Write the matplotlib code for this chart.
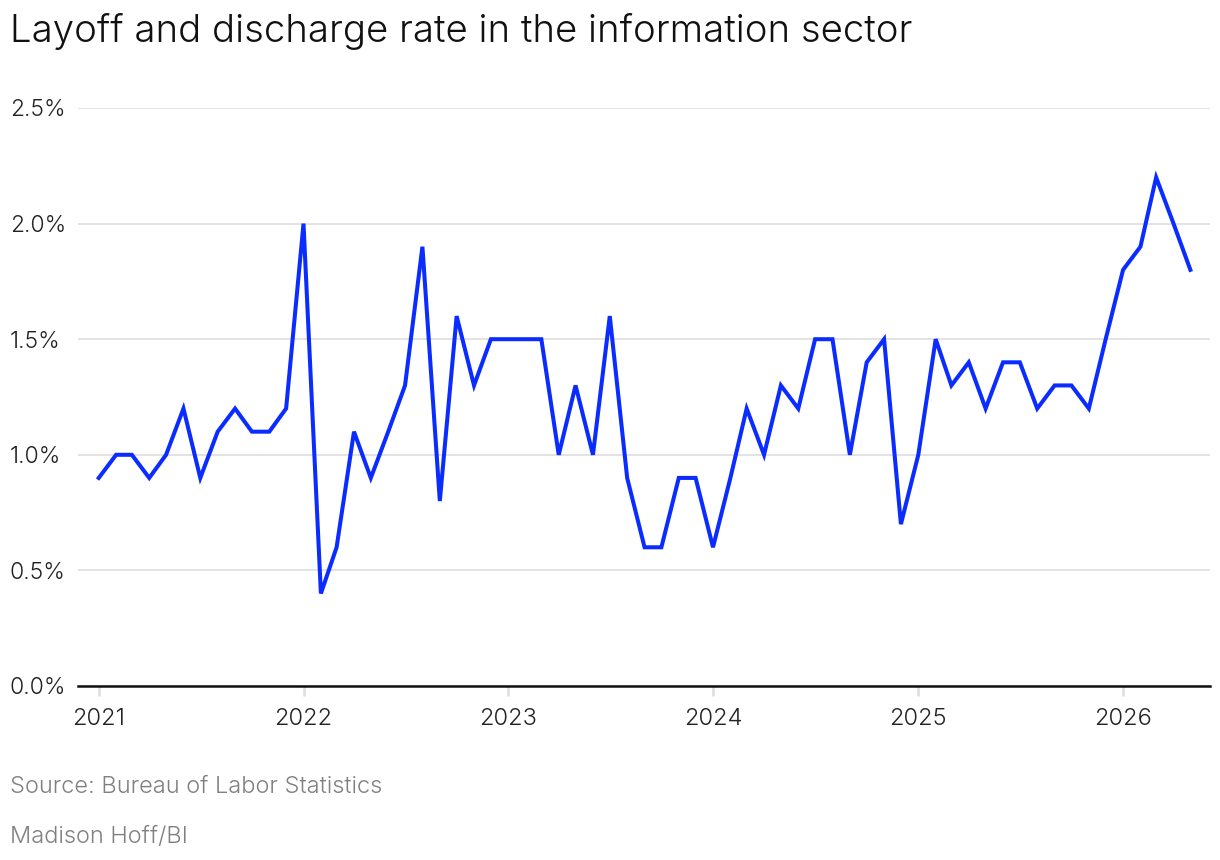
import matplotlib
matplotlib.use("Agg")
import matplotlib.pyplot as plt
import pandas as pd

plt.rcParams['font.family'] = ['Inter', 'DejaVu Sans']
plt.rcParams['font.weight'] = 300

start_month = "2021-01-01"
rate = [0.9, 1.0, 1.0, 0.9, 1.0, 1.2, 0.9, 1.1, 1.2, 1.1, 1.1, 1.2,
        2.0, 0.4, 0.6, 1.1, 0.9, 1.1, 1.3, 1.9, 0.8, 1.6, 1.3, 1.5,
        1.5, 1.5, 1.5, 1.0, 1.3, 1.0, 1.6, 0.9, 0.6, 0.6, 0.9, 0.9,
        0.6, 0.9, 1.2, 1.0, 1.3, 1.2, 1.5, 1.5, 1.0, 1.4, 1.5, 0.7,
        1.0, 1.5, 1.3, 1.4, 1.2, 1.4, 1.4, 1.2, 1.3, 1.3, 1.2, 1.5,
        1.8, 1.9, 2.2, 2.0, 1.8]
y_ticks = [0.0, 0.5, 1.0, 1.5, 2.0, 2.5]
y_tick_labels = ["0.0%", "0.5%", "1.0%", "1.5%", "2.0%", "2.5%"]
x_tick_years = [2021, 2022, 2023, 2024, 2025, 2026]

dates = pd.date_range(start_month, periods=len(rate), freq="MS")

W, H = 1220, 860
fig = plt.figure(figsize=(W / 100, H / 100), dpi=100)
ax_left, ax_right, ax_top, ax_bottom = 78, 1210, 108, 686
ax = fig.add_axes([ax_left / W, 1 - ax_bottom / H, (ax_right - ax_left) / W, (ax_bottom - ax_top) / H])

ax.plot(dates, rate, color="#0a2cff", lw=2.9, solid_joinstyle="miter", clip_on=False, zorder=3)

ax.set_ylim(0, 2.5)
ax.set_xlim(pd.Timestamp("2020-11-25"), pd.Timestamp("2026-06-05"))
ax.set_yticks(y_ticks)
ax.set_yticklabels(y_tick_labels)
ax.set_xticks([pd.Timestamp(f"{y}-01-01") for y in x_tick_years])
ax.set_xticklabels([str(y) for y in x_tick_years])

for s in ["top", "right", "left"]:
    ax.spines[s].set_visible(False)
ax.spines["bottom"].set_color("#111111")
ax.spines["bottom"].set_linewidth(1.8)
ax.spines["bottom"].set_zorder(4)

ax.grid(axis="y", color="#e3e3e3", lw=1.4, zorder=0)
ax.set_axisbelow(True)

ax.tick_params(axis="y", length=0, pad=49, labelsize=16.5, labelcolor="#222222")
for lbl in ax.get_yticklabels():
    lbl.set_horizontalalignment("left")
ax.tick_params(axis="x", length=7, width=1.8, color="#dddddd", pad=9, labelsize=17, labelcolor="#222222")

fig.text(10 / W, 1 - 42 / H, "Layoff and discharge rate in the information sector",
         fontsize=27.6, color="#111111", ha="left", va="baseline")
fig.text(10 / W, 1 - 793 / H, "Source: Bureau of Labor Statistics",
         fontsize=17, color="#808080", ha="left", va="baseline")
fig.text(10 / W, 1 - 843 / H, "Madison Hoff/BI",
         fontsize=17, color="#808080", ha="left", va="baseline")

fig.savefig("out.png", dpi=100, facecolor="white")
